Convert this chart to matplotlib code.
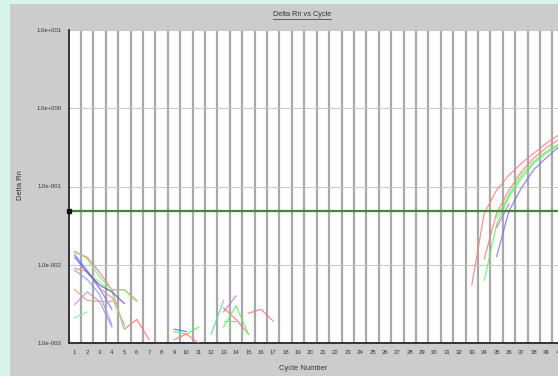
import matplotlib.pyplot as plt
import matplotlib.patches as mpatches
from matplotlib.lines import Line2D
import numpy as np

plt.rcParams['font.family'] = ['Liberation Sans', 'DejaVu Sans']

# Delta Rn readings per well: (start cycle, values)
early_curves = [
    ('#ff7777', 1, [0.0145, 0.0125, 0.0080, 0.0048, 0.0015, 0.0020, 0.0011]),
    ('#ff8888', 1, [0.0090, 0.0082, 0.0050, 0.0038, 0.0017]),
    ('#ff7777', 4, [0.0048, 0.0048, 0.0035]),
    ('#77ee77', 1, [0.0150, 0.0120, 0.0070, 0.0048, 0.0048, 0.0034]),
    ('#88ee88', 2, [0.0080, 0.0060, 0.0045, 0.0015]),
    ('#88ee88', 1, [0.0021, 0.0025]),
    ('#7777ff', 1, [0.0135, 0.0085, 0.0050, 0.0027]),
    ('#8899ff', 1, [0.0085, 0.0065, 0.0042, 0.0017]),
    ('#6655cc', 1, [0.0125, 0.0080, 0.0055, 0.0045, 0.0032]),
    ('#cc88dd', 1, [0.0031, 0.0045, 0.0034, 0.0016]),
    ('#c8b070', 1, [0.0048, 0.0035, 0.0034, 0.0034]),
]
mid_curves = [
    ('#5577ff', 9, [0.0015, 0.0014]),
    ('#66ee66', 9, [0.0014, 0.0013, 0.0016]),
    ('#ff7777', 9, [0.0011, 0.0013, 0.0010]),
    ('#66cccc', 12, [0.0013, 0.0035]),
    ('#cc77dd', 13, [0.0025, 0.0040]),
    ('#ff7777', 13, [0.0028, 0.0020, 0.0013]),
    ('#66ee66', 13, [0.0016, 0.0030, 0.0013]),
    ('#66ee66', 13, [0.0019, 0.0019]),
    ('#ff7777', 15, [0.0024, 0.0027, 0.0019]),
]
late_curves = [
    ('#ff8080', 33, [0.0055, 0.0454, 0.090, 0.140, 0.198, 0.266, 0.357, 0.455]),
    ('#ff8080', 34, [0.0118, 0.0460, 0.090, 0.155, 0.232, 0.312, 0.400]),
    ('#66ee66', 34, [0.0063, 0.0330, 0.074, 0.127, 0.198, 0.266, 0.336]),
    ('#66ee66', 35, [0.0400, 0.079, 0.140, 0.210, 0.280, 0.350]),
    ('#dd66dd', 35, [0.0300, 0.060]),
    ('#7777ff', 35, [0.0128, 0.0490, 0.096, 0.165, 0.232, 0.320]),
]
threshold = 0.0486

cycles = np.arange(1, 41)
y_ticks = [1e-3, 1e-2, 1e-1, 1e0, 1e1]
y_tick_labels = ['1.0e-003', '1.0e-002', '1.0e-001', '1.0e+000', '1.0e+001']

fig = plt.figure(figsize=(5.58, 3.76), dpi=100)
fig.patch.set_facecolor('#d6f5ea')
fig.add_artist(mpatches.Rectangle((10 / 558, 0), 1, 372 / 376,
                                  transform=fig.transFigure,
                                  facecolor='#cccccc', edgecolor='none', zorder=0))

ax = fig.add_axes([68.5 / 558, 33 / 376, 496.4 / 558, 313 / 376])
ax.set_facecolor('white')
ax.set_yscale('log')
ax.set_xlim(0.5, 40.5)
ax.set_ylim(1e-3, 1e1)

for color, start, vals in early_curves + mid_curves + late_curves:
    xs = np.arange(start, start + len(vals))
    ax.plot(xs, vals, color=color, lw=0.9, alpha=0.85, zorder=3)

ax.axhline(threshold, color='#3a8a3a', lw=1.6, zorder=4)
ax.plot(0.5, threshold, 's', ms=2.5, color='#111111', clip_on=False, zorder=5)

ax.set_xticks(cycles)
ax.set_xticklabels([str(c) for c in cycles], fontsize=4.3, color='#333333')
ax.set_xticks(cycles + 0.5, minor=True)
ax.set_yticks(y_ticks)
ax.set_yticklabels(y_tick_labels, fontsize=4.3, color='#333333')
ax.yaxis.set_minor_locator(plt.NullLocator())
ax.tick_params(axis='both', which='both', length=0)
ax.tick_params(axis='y', pad=5)
ax.tick_params(axis='x', pad=5)
ax.grid(True, axis='x', which='minor', color='#a8a8a8', lw=1.6, zorder=1)
ax.grid(True, axis='y', which='major', color='#c8c8c8', lw=0.7, zorder=1)
ax.set_axisbelow(True)

for side in ['top', 'right']:
    ax.spines[side].set_visible(False)
for side in ['left', 'bottom']:
    ax.spines[side].set_color('#333333')
    ax.spines[side].set_linewidth(1.4)

fig.text(20 / 558, 1 - 185 / 376, 'Delta Rn', rotation=90, ha='center', va='center',
         fontsize=5.5, color='#333333')
fig.text(303 / 558, 1 - 369 / 376, 'Cycle Number', ha='center', va='center',
         fontsize=5.5, color='#333333')
title = fig.text(302 / 558, 1 - 15 / 376, 'Delta Rn vs Cycle', ha='center', va='center',
                 fontsize=5.3, color='#333333')

# underline the title
fig.canvas.draw()
bb = title.get_window_extent().transformed(fig.transFigure.inverted())
fig.add_artist(Line2D([bb.x0, bb.x1], [bb.y0 - 0.002, bb.y0 - 0.002],
                      transform=fig.transFigure, color='#333333', lw=0.5))

fig.savefig('out.png', dpi=100)
